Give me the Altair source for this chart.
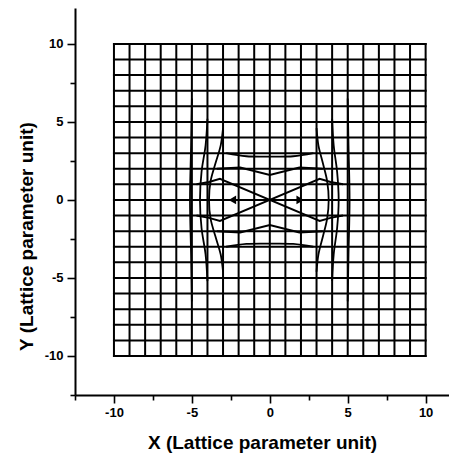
import altair as alt
import pandas as pd

FONT = "Liberation Sans"

# perfect square lattice (lattice parameter units)
LATTICE = [-10, -9, -8, -7, -6, -5, -4, -3, -2, -1, 0, 1, 2, 3, 4, 5, 6, 7, 8, 9, 10]
LAT_MIN, LAT_MAX = -10, 10

# distorted lattice planes with sharp kinks (horizontal planes collapsing onto the loop)
H_P1_X = [-4.7, -3.9, -3.2, 0.0, 3.2, 3.9, 4.7]
H_P1_Y = [1.0, 1.15, 1.35, 0.0, 1.35, 1.15, 1.0]
H_M1_X = [-4.7, -3.9, -3.2, 0.0, 3.2, 3.9, 4.7]
H_M1_Y = [-1.0, -1.15, -1.35, 0.0, -1.35, -1.15, -1.0]
H_P2_X = [-3.4, -1.9, 0.0, 1.9, 3.4]
H_P2_Y = [2.0, 2.08, 1.6, 2.08, 2.0]
H_M2_X = [-3.4, -1.9, 0.0, 1.9, 3.4]
H_M2_Y = [-2.0, -2.08, -1.6, -2.08, -2.0]

# smoothly bent planes
H_P3_X = [-2.8, -1.5, 0.0, 1.5, 2.8]
H_P3_Y = [3.0, 2.8, 2.78, 2.8, 3.0]
H_M3_X = [-2.8, -1.5, 0.0, 1.5, 2.8]
H_M3_Y = [-3.0, -2.82, -2.8, -2.82, -3.0]
V_M3_X = [-3.0, -3.15, -3.5, -3.8, -3.9, -3.8, -3.5, -3.15, -3.0]
V_M3_Y = [4.6, 3.5, 2.3, 1.2, 0.0, -1.2, -2.3, -3.5, -4.6]
V_P3_X = [3.0, 3.12, 3.42, 3.68, 3.78, 3.68, 3.42, 3.12, 3.0]
V_P3_Y = [4.6, 3.5, 2.3, 1.2, 0.0, -1.2, -2.3, -3.5, -4.6]
V_M4_X = [-4.0, -4.12, -4.38, -4.48, -4.38, -4.12, -4.0]
V_M4_Y = [5.2, 3.5, 1.8, 0.0, -1.8, -3.5, -5.2]
V_P4_X = [4.0, 4.1, 4.32, 4.42, 4.32, 4.1, 4.0]
V_P4_Y = [5.2, 3.5, 1.8, 0.0, -1.8, -3.5, -5.2]
V_M5_X = [-5.0, -5.05, -5.12, -5.05, -5.0]
V_M5_Y = [6.5, 3.5, 0.0, -3.5, -6.5]
V_P5_X = [5.0, 5.05, 5.12, 5.05, 5.0]
V_P5_Y = [6.5, 3.5, 0.0, -3.5, -6.5]

# ends of the removed half plane
ARROW_X = [-2.4, 1.95]
ARROW_Y = [0.0, 0.0]
ARROW_SHAPE = ["triangle-left", "triangle-right"]

# axis ticks
TICKS_X = [-12.5, -10, -7.5, -5, -2.5, 0, 2.5, 5, 7.5, 10]
TICKS_Y = [-12.5, -10, -7.5, -5, -2.5, 0, 2.5, 5, 7.5, 10]
X_DOMAIN = [-12.5, 11.5]
Y_DOMAIN = [-12.5, 12.3]

# ---------------- build tables ----------------
seg_rows = []
for v in LATTICE:
    seg_rows.append({"x": v, "y": LAT_MIN, "x2": v, "y2": LAT_MAX})
    seg_rows.append({"x": LAT_MIN, "y": v, "x2": LAT_MAX, "y2": v})
grid_df = pd.DataFrame(seg_rows)


def lines_df(lines):
    rows = []
    for name, xs, ys in lines:
        for i, (xv, yv) in enumerate(zip(xs, ys)):
            rows.append({"line": name, "i": i, "x": xv, "y": yv})
    return pd.DataFrame(rows)


kink_df = lines_df([
    ("p1", H_P1_X, H_P1_Y), ("m1", H_M1_X, H_M1_Y),
    ("p2", H_P2_X, H_P2_Y), ("m2", H_M2_X, H_M2_Y),
])
curve_df = lines_df([
    ("p3", H_P3_X, H_P3_Y), ("m3", H_M3_X, H_M3_Y),
    ("vm3", V_M3_X, V_M3_Y), ("vp3", V_P3_X, V_P3_Y),
    ("vm4", V_M4_X, V_M4_Y), ("vp4", V_P4_X, V_P4_Y),
    ("vm5", V_M5_X, V_M5_Y), ("vp5", V_P5_X, V_P5_Y),
])
arrow_df = pd.DataFrame({"x": ARROW_X, "y": ARROW_Y, "shape": ARROW_SHAPE})

major = "abs(datum.value % 5) < 0.001"
common_axis = dict(
    grid=False,
    domainColor="black", domainWidth=2,
    tickColor="black", tickWidth=1.6,
    tickSize={"condition": {"test": major, "value": 8}, "value": 5},
    labelExpr=major + " ? '' + datum.value : ''",
    labelFont=FONT, labelFontSize=13, labelFontWeight="bold", labelColor="black",
    titleFont=FONT, titleFontSize=19, titleFontWeight="bold", titleColor="black",
)
x_axis = alt.Axis(values=TICKS_X, labelPadding=3, titlePadding=14,
                  title="X (Lattice parameter unit)", **common_axis)
y_axis = alt.Axis(values=TICKS_Y, labelPadding=4, titlePadding=8, titleY=228,
                  title="Y (Lattice parameter unit)", **common_axis)
xs = alt.Scale(domain=X_DOMAIN, nice=False, zero=False)
ys = alt.Scale(domain=Y_DOMAIN, nice=False, zero=False)

X = alt.X("x:Q", scale=xs, axis=x_axis)
Y = alt.Y("y:Q", scale=ys, axis=y_axis)

grid = alt.Chart(grid_df).mark_rule(color="black", strokeWidth=2, strokeCap="square").encode(
    x=X, y=Y, x2="x2:Q", y2="y2:Q"
)
kinks = alt.Chart(kink_df).mark_line(color="black", strokeWidth=2, interpolate="linear").encode(
    x=X, y=Y, detail="line:N", order="i:Q"
)
curves = alt.Chart(curve_df).mark_line(color="black", strokeWidth=1.8, interpolate="catmull-rom").encode(
    x=X, y=Y, detail="line:N", order="i:Q"
)
arrows = alt.Chart(arrow_df).mark_point(filled=True, color="black", size=75, opacity=1).encode(
    x=X, y=Y, shape=alt.Shape("shape:N", scale=None, legend=None)
)

chart = alt.layer(grid, kinks, curves, arrows).properties(
    width=374, height=387,
    autosize=alt.AutoSizeParams(type="none"),
    padding={"left": 67, "top": 0, "right": 0, "bottom": 60},
    background="white",
).configure_view(stroke=None)

chart.save("out.html", embed_options={"renderer": "svg", "actions": False})
